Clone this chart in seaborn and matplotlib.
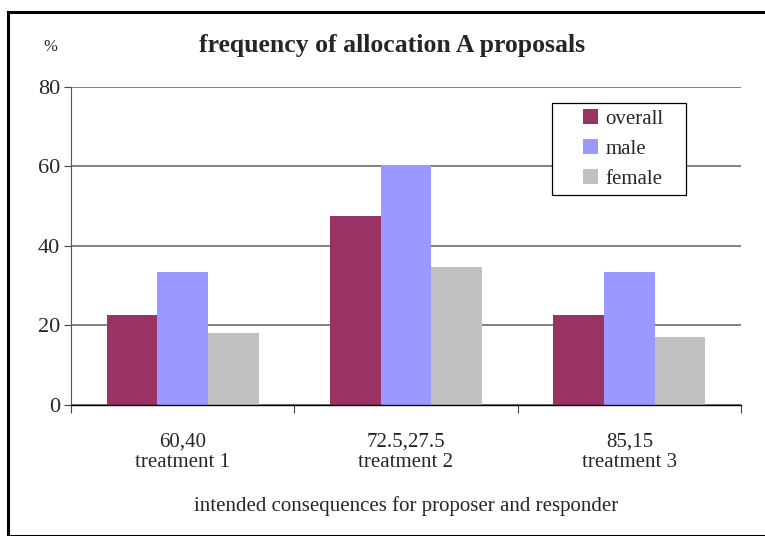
import numpy as np
import pandas as pd
import matplotlib.pyplot as plt
import seaborn as sns
from matplotlib.patches import Rectangle

# values (percent)
treatments = ['60,40\ntreatment 1', '72.5,27.5\ntreatment 2', '85,15\ntreatment 3']
overall = [22.6, 47.6, 22.6]
male = [33.5, 60.3, 33.5]
female = [18.1, 34.7, 17.1]
groups = ['overall', 'male', 'female']
colors = ['#993366', '#9999FF', '#C0C0C0']

df = pd.DataFrame({
    'treatment': treatments * 3,
    'group': [g for g in groups for _ in treatments],
    'value': overall + male + female,
})

sns.set_theme(style='white')
plt.rcParams['font.family'] = ['Liberation Serif', 'DejaVu Serif']

fig = plt.figure(figsize=(7.65, 5.36), dpi=100)
ax = fig.add_axes([0.0928, 0.2444, 0.8758, 0.5933])

sns.barplot(data=df, x='treatment', y='value', hue='group', hue_order=groups,
            palette=colors, width=0.68, gap=0, saturation=1, linewidth=0,
            edgecolor='none', ax=ax, legend=True)

ax.set_ylim(0, 80)
ax.set_xlim(-0.5, 2.5)
ax.set_yticks([0, 20, 40, 60, 80])
ax.tick_params(axis='y', which='major', direction='out', length=5, width=0.8,
               color='#444444', labelsize=16, pad=3, left=True)
ax.set_xticks([0, 1, 2])
ax.set_xticklabels(treatments, fontsize=15, linespacing=1.12)
ax.set_xticks([-0.5, 0.5, 1.5, 2.5], minor=True)
ax.tick_params(axis='x', which='major', length=0, pad=20)
ax.tick_params(axis='x', which='minor', direction='out', length=6, width=0.8,
               color='#444444', bottom=True)
ax.grid(axis='y', color='#808080', linewidth=1.4)
ax.set_axisbelow(True)
for s in ['top', 'right']:
    ax.spines[s].set_visible(False)
ax.spines['left'].set_color('#555555')
ax.spines['left'].set_linewidth(0.8)
ax.spines['bottom'].set_color('black')
ax.spines['bottom'].set_linewidth(1.0)

ax.set_ylabel('')
ax.set_xlabel('intended consequences for proposer and responder', fontsize=15,
              labelpad=17)

# legend entries without frame; the box is drawn separately for wider padding
leg = ax.legend(loc='center left', bbox_to_anchor=(0.764, 0.805), frameon=False,
                fontsize=15, handlelength=0.72, handleheight=0.72,
                handletextpad=0.35, labelspacing=0.5, borderpad=0,
                borderaxespad=0)
ax.add_patch(Rectangle((0.718, 0.66), 0.2, 0.29, transform=ax.transAxes,
                       facecolor='white', edgecolor='black', linewidth=0.9,
                       zorder=4))
leg.set_zorder(5)

fig.text(0.512, 0.915, 'frequency of allocation A proposals', ha='center',
         va='center', fontsize=18.5, fontweight='bold')
fig.text(0.066, 0.912, '%', ha='center', va='center', fontsize=12)

fig.patches.append(Rectangle((0.011, 0.0), 1.0, 0.978, transform=fig.transFigure,
                             fill=False, edgecolor='black', linewidth=2.2))

fig.savefig('out.png', dpi=100)
